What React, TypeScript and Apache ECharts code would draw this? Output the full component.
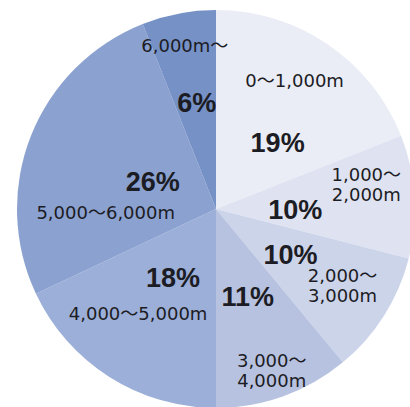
import React, { useEffect, useRef } from "react";
import * as echarts from "echarts";

const categories = [
  "0〜1,000m",
  "1,000〜\n2,000m",
  "2,000〜\n3,000m",
  "3,000〜\n4,000m",
  "4,000〜5,000m",
  "5,000〜6,000m",
  "6,000m〜",
];
const shares = [19, 10, 10, 11, 18, 26, 6];

const sliceColors = ["#eaedf6", "#dfe3f1", "#ccd4ea", "#b7c2e0", "#9cafd8", "#8ba1d0", "#7691c6"];
const percentOffsets = [
  [4, 19],
  [-23, 7],
  [-12, -9],
  [-3, -8],
  [12, -18],
  [32, 11],
  [0, -5],
];
const nameOffsets = [
  [21, -44],
  [48, -18],
  [40, 22],
  [21, 65],
  [-23, 18],
  [-15, 41],
  [-12, -63],
];

const FONT = "'Liberation Sans', Arial, 'Noto Sans CJK JP', sans-serif";
const NAME_FONT = "'DejaVu Sans', 'Noto Sans CJK JP', sans-serif";

export default function App() {
  const ref = useRef<HTMLDivElement>(null);
  useEffect(() => {
    if (!ref.current) return;
    const chart = echarts.init(ref.current, undefined, { renderer: "svg" });
    const common = {
      type: "pie",
      center: [216, 209],
      radius: 199,
      startAngle: 90,
      clockwise: true,
      avoidLabelOverlap: false,
      labelLayout: { hideOverlap: false },
      labelLine: { show: false },
      emphasis: { disabled: true },
    };
    chart.setOption({
      animation: false,
      backgroundColor: "#ffffff",
      series: [
        {
          ...common,
          itemStyle: { borderWidth: 0 },
          data: categories.map((c, i) => ({
            name: c,
            value: shares[i],
            itemStyle: { color: sliceColors[i] },
            label: {
              show: true,
              position: "inside",
              formatter: `${shares[i]}%`,
              color: "#1c1c24",
              fontSize: 27,
              fontWeight: "bold",
              fontFamily: FONT,
              offset: percentOffsets[i],
            },
          })),
        },
        {
          ...common,
          silent: true,
          itemStyle: { color: "rgba(0,0,0,0)", borderWidth: 0 },
          data: categories.map((c, i) => ({
            name: c,
            value: shares[i],
            label: {
              show: true,
              position: "inside",
              formatter: c,
              color: "#1c1c24",
              fontSize: 18,
              lineHeight: 20,
              fontFamily: NAME_FONT,
              offset: nameOffsets[i],
            },
          })),
        },
      ],
    });
    return () => chart.dispose();
  }, []);
  return (
    <div
      ref={ref}
      style={{ position: "fixed", left: 0, top: 0, width: 410, height: 407 }}
    />
  );
}
